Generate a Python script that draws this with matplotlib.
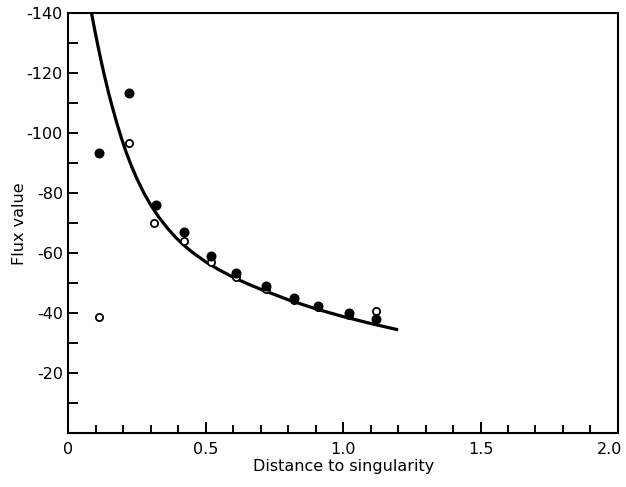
import matplotlib
matplotlib.use("Agg")
import matplotlib.pyplot as plt
from matplotlib.ticker import MultipleLocator, FixedLocator, FixedFormatter
from matplotlib.transforms import ScaledTranslation

plt.rcParams["axes.unicode_minus"] = False
plt.rcParams["font.family"] = ["DejaVu Sans"]

# Fitted flux curve
curve_x = [0.084, 0.095, 0.108, 0.121, 0.134, 0.147, 0.160, 0.175, 0.193,
           0.21, 0.23, 0.25, 0.275, 0.30, 0.33, 0.36, 0.39, 0.42, 0.45,
           0.50, 0.55, 0.60, 0.65, 0.70, 0.80, 0.90, 1.00, 1.10, 1.20]
curve_y = [-140, -134.7, -128.8, -123.2, -118.0, -113.1, -108.6, -103.7, -98.3,
           -93.7, -88.9, -84.7, -80.0, -76.0, -71.9, -68.4, -65.3, -62.7, -60.4,
           -57.1, -54.4, -52.0, -49.9, -48.0, -44.5, -41.5, -38.9, -36.6, -34.5]

# Computed flux values (filled symbols)
filled_x = [0.11, 0.22, 0.32, 0.42, 0.52, 0.61, 0.72, 0.82, 0.91, 1.02, 1.12]
filled_y = [-93.5, -113.3, -76, -67.2, -59.2, -53.3, -49.2, -45.2, -42.5, -40, -38.1]

# Computed flux values (open symbols)
open_x = [0.11, 0.22, 0.31, 0.42, 0.52, 0.61, 0.72, 0.82, 0.91, 1.02, 1.12]
open_y = [-38.7, -96.7, -70.2, -64, -57.2, -52, -48, -44.3, -42, -39.5, -40.9]

x_tick_values = [0, 0.5, 1.0, 1.5, 2.0]
x_tick_labels = ["0", "0.5", "1.0", "1.5", "2.0"]
y_tick_values = [-140, -120, -100, -80, -60, -40, -20, 0]
y_tick_labels = ["-140", "-120", "-100", "-80", "-60", "-40", "-20", ""]

fig = plt.figure(figsize=(6.26, 4.87), dpi=100)
ax = fig.add_axes([0.1094, 0.1103, 0.8776, 0.8624])

ax.plot(curve_x, curve_y, color="black", lw=2.3, solid_capstyle="butt",
        solid_joinstyle="round", zorder=2)
ax.plot(open_x, open_y, "o", ms=5.2, mfc="white", mec="black", mew=1.3,
        linestyle="none", zorder=3)
ax.plot(filled_x, filled_y, "o", ms=6.2, mfc="black", mec="black",
        linestyle="none", zorder=4)

ax.set_xlim(0, 2.0)
ax.set_ylim(0, -140)

ax.xaxis.set_major_locator(FixedLocator(x_tick_values))
ax.xaxis.set_major_formatter(FixedFormatter(x_tick_labels))
ax.xaxis.set_minor_locator(MultipleLocator(0.1))
ax.yaxis.set_major_locator(FixedLocator(y_tick_values))
ax.yaxis.set_major_formatter(FixedFormatter(y_tick_labels))
ax.yaxis.set_minor_locator(MultipleLocator(10))

ax.tick_params(axis="x", which="major", direction="in", length=8, width=1.4,
               labelsize=11.5, pad=6)
ax.tick_params(axis="x", which="minor", direction="in", length=6, width=1.4)
ax.tick_params(axis="y", which="both", direction="in", length=7.5, width=1.4,
               labelsize=11.5, pad=4)

for side in ["left", "right", "top", "bottom"]:
    ax.spines[side].set_linewidth(1.5)

ax.set_xlabel("Distance to singularity", fontsize=11.5, labelpad=2)
ax.set_ylabel("Flux value", fontsize=11.5, labelpad=0)

# keep the last x tick label inside the canvas
fig.canvas.draw()
last_label = ax.get_xticklabels()[-1]
last_label.set_transform(last_label.get_transform()
                         + ScaledTranslation(-6 / 72, 0, fig.dpi_scale_trans))

fig.savefig("out.png", dpi=100)
